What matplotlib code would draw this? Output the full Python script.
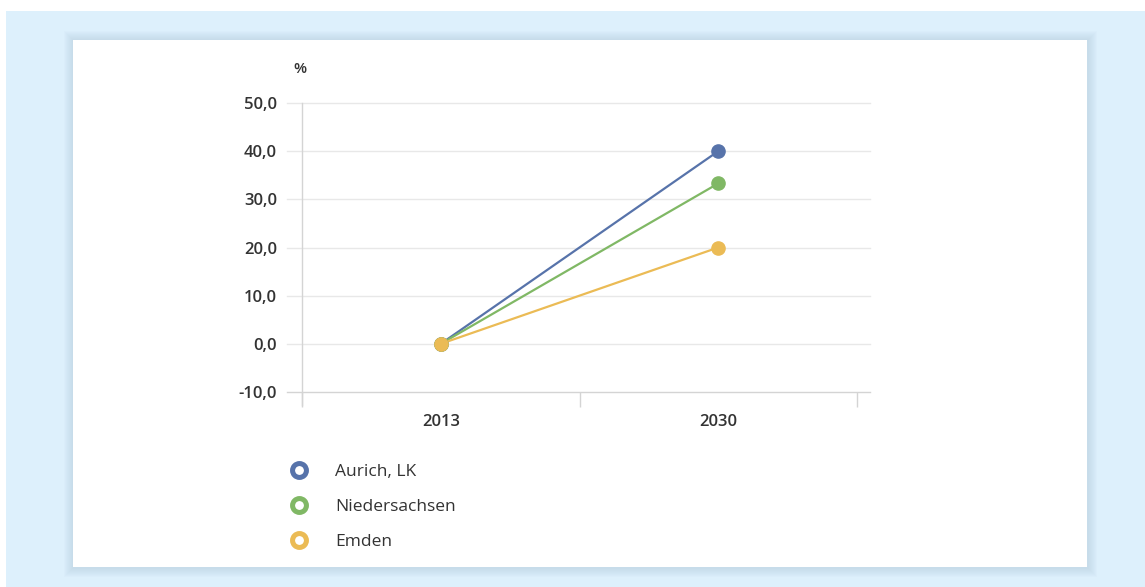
import matplotlib
matplotlib.use("Agg")
from matplotlib import pyplot as plt
from matplotlib.patches import Rectangle
import numpy as np

# values (percent change vs. 2013)
years = ["2013", "2030"]
series_names = ["Aurich, LK", "Niedersachsen", "Emden"]
aurich = [0.0, 40.0]
niedersachsen = [0.0, 33.3]
emden = [0.0, 20.0]
y_ticks = [-10, 0, 10, 20, 30, 40, 50]

colors = ["#5773aa", "#80b865", "#ebbb55"]

plt.rcParams['font.family'] = ['Open Sans', 'DejaVu Sans']

W, H = 1145, 587
fig = plt.figure(figsize=(W / 100, H / 100), dpi=100)
fig.patch.set_facecolor("white")


def px(x0, y0, x1, y1):
    # pixel box -> figure fraction box (left, bottom, width, height)
    return (x0 / W, 1 - y1 / H, (x1 - x0) / W, (y1 - y0) / H)


# light blue page and the white card with a soft shadow
l, b, w, h = px(6, 11, W, H)
fig.patches.append(Rectangle((l, b), w, h, transform=fig.transFigure,
                             facecolor="#ddf0fc", edgecolor="none", zorder=0))
for i in range(9, 0, -1):
    l, b, w, h = px(73 - i, 40 - i, 1087 + i + 1, 567 + i + 1)
    fig.patches.append(Rectangle((l, b), w, h, transform=fig.transFigure,
                                 facecolor="#8aa3b6", edgecolor="none",
                                 alpha=0.028, zorder=1))
l, b, w, h = px(73, 40, 1087, 567)
fig.patches.append(Rectangle((l, b), w, h, transform=fig.transFigure,
                             facecolor="white", edgecolor="none", zorder=2))

ax = fig.add_axes(px(302, 103, 857, 392))
ax.set_zorder(3)
ax.patch.set_alpha(0)

x = np.arange(len(years))
for vals, name, c in zip([aurich, niedersachsen, emden], series_names, colors):
    ax.plot(x, vals, color=c, lw=1.6, zorder=4)
    ax.plot(x, vals, ls="none", marker="o", ms=9.5, color=c, zorder=5)

ax.set_xlim(-0.5, 1.5)
ax.set_ylim(-10, 50)

# horizontal grid, running a bit past the axis on both sides
for t in y_ticks:
    col = "#d4d4d4" if t == -10 else "#e8e8e8"
    ax.axhline(t, xmin=-0.027, xmax=1.023, color=col, lw=1.0, clip_on=False, zorder=1)

for s in ["top", "right", "bottom"]:
    ax.spines[s].set_visible(False)
ax.spines["left"].set_color("#d4d4d4")
ax.spines["left"].set_linewidth(1.0)
ax.spines["left"].set_bounds(-12.8, 50)

ax.set_yticks(y_ticks)
ax.set_yticklabels([f"{t:.1f}".replace(".", ",") for t in y_ticks])
ax.tick_params(axis="y", length=0, pad=18, labelsize=12, labelcolor="#333333")

ax.set_xticks(x)
ax.set_xticklabels(years)
ax.set_xticks([-0.5, 0.5, 1.5], minor=True)
ax.tick_params(axis="x", which="major", length=0, pad=16, labelsize=12, labelcolor="#333333")
ax.tick_params(axis="x", which="minor", length=11, width=1.0, color="#d4d4d4")
for lbl in ax.get_yticklabels() + ax.get_xticklabels():
    lbl.set_fontweight("semibold")

fig.text(300 / W, 1 - 69 / H, "%", ha="center", va="center", fontsize=11,
         color="#333333", fontweight="semibold", zorder=4)

# legend with ring markers
handles = [plt.Line2D([], [], ls="none", marker="o", ms=10, mfc="white",
                      mec=c, mew=3.6) for c in colors]
leg = fig.legend(handles, series_names, loc="upper left",
                 bbox_to_anchor=(290 / W, 1 - 464 / H), frameon=False,
                 fontsize=12.5, handlelength=1.0, handletextpad=1.59,
                 labelspacing=1.08, borderaxespad=0, borderpad=0)
leg.set_zorder(4)
for t in leg.get_texts():
    t.set_color("#333333")

fig.savefig("out.png", dpi=100)
